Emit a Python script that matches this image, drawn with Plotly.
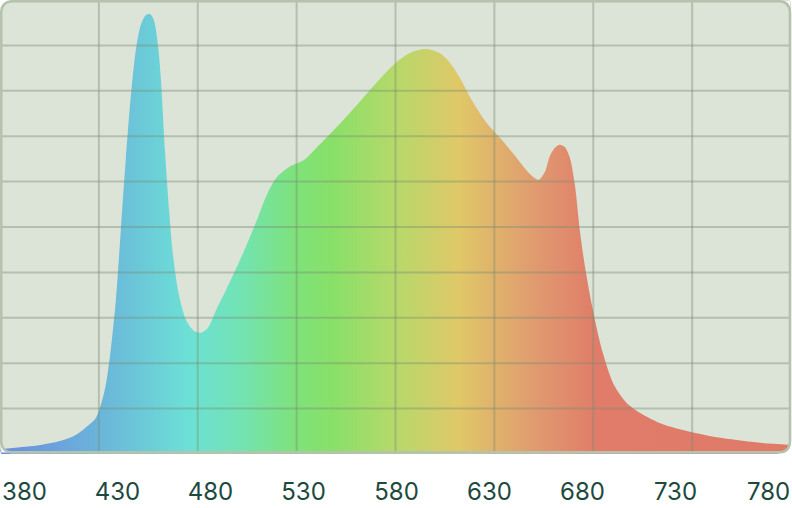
import plotly.graph_objects as go

# ---- data ----
wavelength = [380.3, 390.4, 400.6, 410.7, 418.3, 424.9, 428.4, 431.0, 433.5, 436.0,
              438.6, 441.1, 443.6, 446.2, 448.7, 451.2, 453.8, 455.8, 457.8, 459.9,
              461.4, 463.4, 465.5, 467.5, 470.5, 474.1, 478.1, 481.7, 485.2, 489.3,
              494.3, 501.9, 509.5, 514.6, 519.7, 526.2, 533.9, 541.5, 552.6, 562.7,
              572.9, 580.5, 588.1, 595.7, 602.3, 607.3, 612.4, 618.5, 626.1, 633.7,
              641.3, 647.9, 652.4, 655.5, 658.0, 660.5, 663.0, 665.6, 668.2, 670.7,
              673.2, 675.7, 679.3, 684.4, 690.5, 697.0, 704.6, 714.8, 730.0, 745.2,
              765.5, 780.0]
intensity = [1.1, 1.5, 2.0, 2.9, 4.2, 6.4, 7.9, 10.8, 15.2, 22.9,
             33.9, 49.3, 64.8, 79.0, 89.0, 94.5, 96.7, 96.9, 95.6, 90.0,
             82.4, 67.0, 53.7, 43.8, 35.0, 29.5, 27.1, 26.7, 27.8, 31.7,
             36.1, 43.2, 51.1, 56.8, 60.8, 63.2, 64.8, 68.1, 73.1, 78.0,
             83.0, 86.3, 88.5, 89.2, 88.3, 86.3, 83.0, 78.0, 72.9, 69.2,
             65.2, 61.7, 60.4, 62.1, 65.6, 67.4, 68.1, 67.6, 65.2, 59.3,
             49.3, 41.6, 32.8, 22.9, 15.2, 11.2, 8.8, 6.6, 4.8, 3.5,
             2.4, 2.0]
tick_labels = [380, 430, 480, 530, 580, 630, 680, 730, 780]
grid_x = [430, 480, 530, 580, 630, 680, 730]
grid_y = [10, 20, 30, 40, 50, 60, 70, 80, 90]

# gradient stops (wavelength -> colour)
grad_nm = [380, 430, 475, 500, 530, 548, 580, 612, 650, 682, 780]
grad_col = ["#6a8cdf", "#6bb4da", "#6ce0d6", "#72e3b6", "#7ee27a", "#88e068",
            "#b6d96a", "#e0c868", "#e09b70", "#e07c69", "#df7a68"]

X0, X1 = 380, 780
W, H = 792, 508
ML, MR, MT, MB = 0, 1, 0, 54
PW, PH = W - ML - MR, H - MT - MB

fig = go.Figure()
fig.add_trace(go.Scatter(
    x=wavelength, y=intensity, mode="lines", line=dict(width=0, shape="spline", smoothing=0.8),
    fill="tozeroy",
    fillgradient=dict(type="horizontal", start=X0, stop=X1,
                      colorscale=[[(n - X0) / (X1 - X0), c] for n, c in zip(grad_nm, grad_col)]),
    hoverinfo="skip", showlegend=False,
))
# invisible carrier so the label axis is drawn
fig.add_trace(go.Scatter(
    x=tick_labels, y=[0] * len(tick_labels), xaxis="x2", mode="markers",
    marker=dict(opacity=0), hoverinfo="skip", showlegend=False,
))

shapes = []
gcol = "rgba(120,140,115,0.40)"
for gx in grid_x:
    shapes.append(dict(type="line", xref="x", yref="paper", x0=gx, x1=gx, y0=0, y1=1,
                       line=dict(color=gcol, width=2), layer="above"))
for gy in grid_y:
    shapes.append(dict(type="line", xref="paper", yref="y", x0=0, x1=1, y0=gy, y1=gy,
                       line=dict(color=gcol, width=2), layer="above"))


def px(p):
    return f"{(p - ML) / PW:.5f}"


def py(p):
    return f"{(MT + PH - p) / PH:.5f}"


# rounded border (pixel geometry converted to paper coords)
L, R, T, B, rad = 1.2, 790.0, 1.2, 452.4, 12
corners = [
    (L, T, L, T + rad, L + rad, T),
    (R, T, R - rad, T, R, T + rad),
    (R, B, R, B - rad, R - rad, B),
    (L, B, L + rad, B, L, B - rad),
]
for cx, cy, ax, ay, bx, by in corners:
    ox = cx + (-3 if cx == L else 3)
    oy = cy + (-3 if cy == T else 3)
    path = (f"M {px(ax)},{py(ay)} Q {px(cx)},{py(cy)} {px(bx)},{py(by)} "
            f"L {px(bx)},{py(oy)} L {px(ox)},{py(oy)} L {px(ox)},{py(ay)} Z")
    shapes.append(dict(type="path", xref="paper", yref="paper", path=path,
                       fillcolor="white", line=dict(width=0), layer="above"))

border = (f"M {px(L + rad)},{py(T)} L {px(R - rad)},{py(T)} Q {px(R)},{py(T)} {px(R)},{py(T + rad)} "
          f"L {px(R)},{py(B - rad)} Q {px(R)},{py(B)} {px(R - rad)},{py(B)} "
          f"L {px(L + rad)},{py(B)} Q {px(L)},{py(B)} {px(L)},{py(B - rad)} "
          f"L {px(L)},{py(T + rad)} Q {px(L)},{py(T)} {px(L + rad)},{py(T)} Z")
shapes.append(dict(type="path", xref="paper", yref="paper", path=border,
                   line=dict(color="#b4c2ae", width=2.6), layer="above"))

# label axis: labels spread evenly from left edge to right edge
lab_first, lab_step = 24.5, 93.0
sc = lab_step / 50.0
r0 = 380 - (lab_first - 0) / sc
r1 = 380 + (PW - lab_first) / sc

fig.update_layout(
    width=W, height=H,
    margin=dict(l=ML, r=MR, t=MT, b=MB, pad=0),
    paper_bgcolor="white", plot_bgcolor="#dce3d7",
    shapes=shapes,
    xaxis=dict(range=[X0, X1], showgrid=False, zeroline=False, showticklabels=False,
               showline=False, ticks=""),
    xaxis2=dict(overlaying="x", side="bottom", range=[r0, r1], tickmode="array",
                tickvals=tick_labels, ticktext=[str(t) for t in tick_labels],
                showgrid=False, zeroline=False, showline=False, ticks="outside",
                ticklen=16, tickcolor="rgba(0,0,0,0)", automargin=False,
                tickfont=dict(family="Inter", size=24, color="#1d4a3e")),
    yaxis=dict(range=[0, 100], showgrid=False, zeroline=False, showticklabels=False,
               showline=False, ticks=""),
)

fig.write_html("out.html", config={"displayModeBar": False},
               post_script="document.body.style.margin='0px';")
